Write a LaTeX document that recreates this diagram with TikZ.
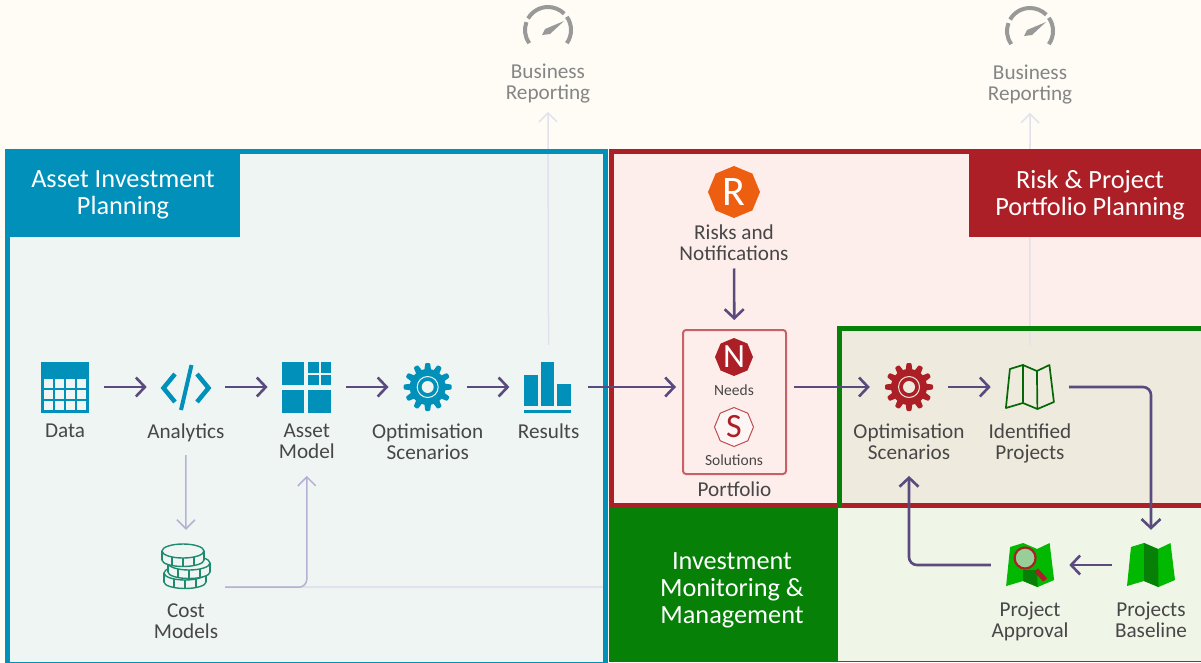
\documentclass[tikz,border=0pt]{standalone}
\usepackage{fontspec}
\setmainfont{Carlito}
\usepackage{xcolor}
\usetikzlibrary{shapes.geometric,arrows.meta,positioning,calc}

\definecolor{paper}{HTML}{FFFCF5}
\definecolor{bluefill}{HTML}{EFF5F3}
\definecolor{blueline}{HTML}{0090BA}
\definecolor{redfill}{HTML}{FDEEEB}
\definecolor{redline}{HTML}{AD1F26}
\definecolor{greenline}{HTML}{068006}
\definecolor{greenfill}{HTML}{EFF5E7}
\definecolor{beige}{HTML}{EEEADD}
\definecolor{purple}{HTML}{5B4A7E}
\definecolor{lilac}{HTML}{B7B0D2}
\definecolor{palelilac}{HTML}{E2E1EC}
\definecolor{coingreen}{HTML}{1E8A6E}
\definecolor{gaugegrey}{HTML}{999999}
\definecolor{brightgreen}{HTML}{00B900}
\definecolor{lensgreen}{HTML}{98CF98}
\definecolor{riskorange}{HTML}{EE5E10}

\tikzset{
    pics/gearicon/.style n args={2}{code={
        \fill[#1] (0,0) circle (18pt);
        \foreach \a in {0,30,...,330}
            \fill[#1,rotate=\a,rounded corners=1pt] (-3.6,-15) -- (-2.4,-24) -- (2.4,-24) -- (3.6,-15) -- cycle;
        \draw[#2,line width=1pt] (0,0) circle (10.5pt);
        \fill[#2] (0,0) circle (6pt);
    }},
    pics/gaugeicon/.style={code={
        \draw[gaugegrey,line width=4pt] (215:23pt) arc (215:160:23pt);
        \draw[gaugegrey,line width=4pt] (150:23pt) arc (150:45:23pt);
        \draw[gaugegrey,line width=4pt] (35:23pt) arc (35:-35:23pt);
        \fill[gaugegrey] (-6,5) -- (-3,-1) -- (16,-9) -- (2,4) -- cycle;
    }},
    pics/mapline/.style={code={
        \draw[#1,line width=1.7pt,line join=round] (-20,-18) -- (-7,-22) -- (-7,16) -- (-24,21) -- cycle;
        \draw[#1,line width=1.7pt,line join=round] (-7,-22) -- (7,-16) -- (7.5,22) -- (-7,16);
        \draw[#1,line width=1.7pt,line join=round] (7,-16) -- (19.5,-22) -- (24,15) -- (7.5,22);
    }},
    pics/mapfill/.style={code={
        \fill[brightgreen] (-20,-18) -- (-7,-22) -- (7,-16) -- (19.5,-22) -- (24,15) -- (7.5,22) -- (-7,16) -- (-24,21) -- cycle;
    }},
}

\newcommand{\coinicon}[2]{
    \fill[bluefill,draw=coingreen,line width=1.4pt] (#1,#2+9) circle[x radius=21pt,y radius=6.5pt];
    \fill[bluefill] (#1-21,#2) rectangle (#1+21,#2+9);
    \draw[coingreen,line width=1.4pt] (#1-21,#2) -- (#1-21,#2+9) (#1+21,#2) -- (#1+21,#2+9);
    \foreach \t in {-11,0,11}
        \draw[coingreen,line width=1.4pt] (#1+\t,#2+6) -- (#1+\t,#2+15);
    \fill[bluefill,draw=coingreen,line width=1.4pt] (#1,#2) circle[x radius=21pt,y radius=7pt];
}

\begin{document}
\begin{tikzpicture}[
    x=1pt, y=-1pt,
    node distance=42.5pt,
    iconbox/.style={rectangle, inner sep=0pt, minimum width=78pt, minimum height=52pt},
    label/.style={inner sep=0pt, align=center, text=black!72, font=\fontsize{21.2}{21}\selectfont},
    greylabel/.style={label, text=black!48},
    smalllabel/.style={label, font=\fontsize{15.5}{16}\selectfont},
    header/.style={inner sep=0pt, align=center, text=white, font=\fontsize{26.3}{27}\selectfont},
    flow/.style={purple, line width=2.6pt, -{Straight Barb[length=9pt,width=19pt,line width=2.6pt]}},
    thinflow/.style={lilac, line width=1.5pt, -{Straight Barb[length=9pt,width=18pt,line width=1.5pt]}},
    faintflow/.style={palelilac, line width=1.5pt, -{Straight Barb[length=9pt,width=18pt,line width=1.5pt]}},
    octagon/.style={regular polygon, regular polygon sides=8, shape border rotate=22.5, inner sep=0pt}
]
    \useasboundingbox (0,0) rectangle (1201,662);
    \clip (0,0) rectangle (1201,662);
    \fill[paper] (0,0) rectangle (1201,662);

    % Panel fills
    \fill[bluefill] (7,151) rectangle (606,662);
    \fill[redfill] (611,151) rectangle (1201,506);
    \fill[beige] (840,329) rectangle (1201,506);
    \fill[greenfill] (838,506) rectangle (1201,662);

    % Icon boxes
    \node[iconbox] (data) at (65,387) {};
    \node[iconbox, right=of data] (analytics) {};
    \node[iconbox, right=of analytics] (assetmodel) {};
    \node[iconbox, right=of assetmodel] (optimblue) {};
    \node[iconbox, right=of optimblue] (results) {};
    \node[iconbox, minimum height=42pt] (cost) at (186,566) {};
    \node[iconbox] (optimgreen) at (909,387) {};
    \node[iconbox, right=of optimgreen] (identified) {};
    \node[iconbox] (baseline) at (1151,565) {};
    \node[iconbox, left=of baseline] (approval) {};
    \node[iconbox] (gaugeleft) at (548,30) {};
    \node[iconbox] (gaugeright) at (1030,31) {};

    % Labels
    \node[label, below=10.5pt of data] (datalabel) {Data};
    \node[label, below=10.5pt of analytics] (analyticslabel) {Analytics};
    \node[label, below=10.5pt of assetmodel] (assetlabel) {Asset\\Model};
    \node[label, below=10.5pt of optimblue] (optimbluelabel) {Optimisation\\Scenarios};
    \node[label, below=10.5pt of results] (resultslabel) {Results};
    \node[label, below=16pt of cost] (costlabel) {Cost\\Models};
    \node[label, below=10.5pt of optimgreen] (optimgreenlabel) {Optimisation\\Scenarios};
    \node[label, below=10.5pt of identified] (identifiedlabel) {Identified\\Projects};
    \node[label, below=11pt of baseline] (baselinelabel) {Projects\\Baseline};
    \node[label, below=11pt of approval] (approvallabel) {Project\\Approval};
    \node[greylabel, below=8pt of gaugeleft] (reportleft) {Business\\Reporting};
    \node[greylabel, below=8pt of gaugeright] (reportright) {Business\\Reporting};

    % Arrows behind the borders
    \coordinate (costend) at (604,587);
    \draw[faintflow, shorten <=16pt, shorten >=8pt] (results.north) -- (reportleft.south);
    \draw[palelilac, line width=2pt] (cost.south east) -- (costend);
    \draw[faintflow, shorten <=16pt, shorten >=8pt] (identified.north) -- (reportright.south);

    % Borders and headers
    \draw[blueline, line width=5pt] (7,151) rectangle (605.5,664);
    \draw[redline, line width=5pt] (611,151.5) rectangle (1210,505.5);
    \fill[greenline] (609,508) rectangle (838,662);
    \draw[greenline, line width=5pt] (1210,328.5) -- (839.5,328.5) -- (839.5,508);
    \draw[redline, line width=5pt] (842,505.5) -- (1201,505.5);
    \draw[greenline, line width=1.5pt] (838,661.5) -- (1201,661.5);
    \fill[blueline] (5,149) rectangle (240,237);
    \fill[redline] (969,149) rectangle (1201,237);
    \node[header] (assethead) at (123,194.5) {Asset Investment\\Planning};
    \node[header] (riskhead) at (1090,195.5) {Risk \& Project\\Portfolio Planning};
    \node[header] (investhead) at (732,590) {Investment\\Monitoring \&\\Management};

    % Data
    \fill[blueline] (41,362) rectangle (89,413);
    \foreach \i in {0,1,2,3}
        \foreach \j in {0,1,2}
            \fill[bluefill] (43.5+11*\i,379+11*\j) rectangle (52.5+11*\i,388+11*\j);

    % Analytics
    \draw[blueline, line width=4.5pt] (175,374) -- (163.5,388) -- (175,402);
    \draw[blueline, line width=4.5pt] (197,374) -- (208.5,388) -- (197,402);
    \draw[blueline, line width=4pt] (191.5,365) -- (181,410);

    % Asset model
    \fill[blueline] (282,362) rectangle (304,385);
    \fill[blueline] (308,362) rectangle (318.5,373);
    \fill[blueline] (320.5,362) rectangle (331,373);
    \fill[blueline] (308,375) rectangle (318.5,385);
    \fill[blueline] (320.5,375) rectangle (331,385);
    \fill[blueline] (282,390) rectangle (304,413);
    \fill[blueline] (308,390) rectangle (331,413);

    % Gears, results, coins
    \pic at (optimblue) {gearicon={blueline}{bluefill}};
    \pic at (optimgreen) {gearicon={redline}{beige}};
    \fill[blueline] (524,375) rectangle (538,406);
    \fill[blueline] (541,362) rectangle (554,406);
    \fill[blueline] (557,384) rectangle (571,406);
    \fill[blueline] (524,410) rectangle (571,413);
    \coinicon{185}{573}
    \coinicon{189}{563}
    \coinicon{183}{551}

    % Gauges
    \pic at (gaugeleft) {gaugeicon};
    \pic at (gaugeright) {gaugeicon};

    % Maps
    \pic at (identified) {mapline=greenline!80!black};
    \pic at (baseline) {mapfill};
    \fill[greenline] (baseline.center) ++(-7,-22) -- ++(14,6) -- ++(0.5,38) -- ++(-14.5,-6) -- cycle;
    \pic at (approval) {mapfill};
    \fill[greenline] (approval.center) ++(-7,5) -- ++(14,0) -- ++(0.5,17) -- ++(-14.5,-6) -- cycle;
    \draw[redline, line width=5pt] ($(approval.center)+(6,5)$) -- ++(9,10);
    \draw[redline, line width=2.2pt, fill=lensgreen] ($(approval.center)+(-5,-7)$) circle (10.5pt);

    % Risks and portfolio
    \node[octagon, fill=riskorange, minimum size=52pt, text=white, font=\fontsize{42}{42}\selectfont] (risks) at (734,192) {R};
    \node[label, below=6pt of risks] (riskslabel) {Risks and\\Notifications};
    \node[rectangle, draw=redline!70!white, line width=2pt, rounded corners=3pt, minimum width=103pt, minimum height=144pt] (portfolio) at (734.5,402) {};
    \node[label, below=7pt of portfolio] (portfoliolabel) {Portfolio};
    \node[octagon, fill=redline, minimum size=38pt, text=white, font=\fontsize{34}{34}\selectfont] (needs) at (734,357) {N};
    \node[smalllabel, below=8pt of needs] (needslabel) {Needs};
    \node[octagon, draw=redline!80!white, line width=1pt, fill=white!50!redfill, minimum size=39pt, text=redline, font=\fontsize{34}{34}\selectfont] (solutions) at (734,427) {S};
    \node[smalllabel, below=7pt of solutions] (solutionslabel) {Solutions};

    % Arrows
    \draw[flow] (data) -- (analytics);
    \draw[flow] (analytics) -- (assetmodel);
    \draw[flow] (assetmodel) -- (optimblue);
    \draw[flow] (optimblue) -- (results);
    \draw[flow, shorten >=6pt] (results.east) -- (results.east -| portfolio.west);
    \draw[flow, shorten <=7pt] (optimgreen.west -| portfolio.east) -- (optimgreen.west);
    \draw[flow] (optimgreen) -- (identified);
    \draw[flow, shorten <=8pt, shorten >=9pt] (riskslabel) -- (portfolio);
    \draw[flow, rounded corners=8pt, shorten >=9pt] (identified.east) -| (baseline.north);
    \draw[flow] (baseline) -- (approval);
    \draw[flow, rounded corners=8pt, shorten >=16pt] (approval.west) -| (optimgreenlabel.south);
    \draw[thinflow, shorten <=13pt, shorten >=15pt] (analyticslabel) -- (cost);
    \draw[thinflow, rounded corners=8pt, shorten >=17pt] (cost.south east) -| (assetlabel.south);
\end{tikzpicture}
\end{document}
